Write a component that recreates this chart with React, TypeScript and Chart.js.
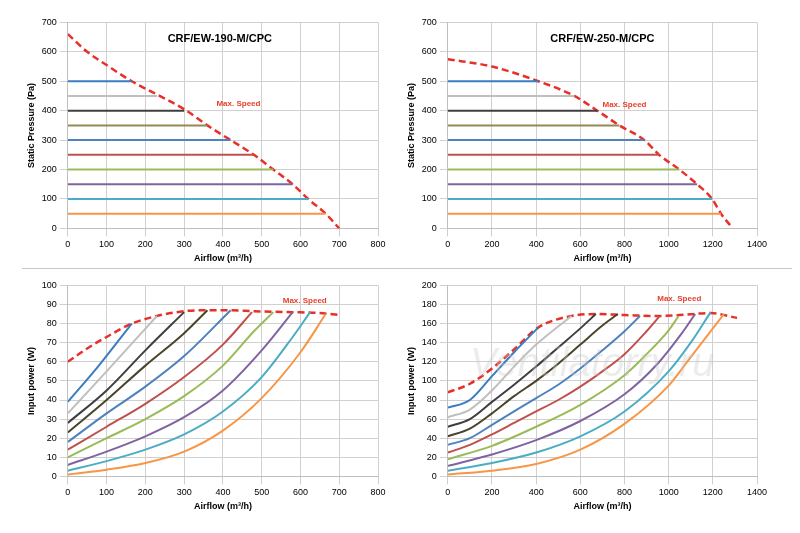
import React, { useEffect, useRef } from "react";
import { Chart, registerables } from "chart.js";
Chart.register(...registerables);

type P = [number, number];
const colors = ["#3A7DC0", "#BFBFBF", "#3F3F3F", "#4A452A", "#4F81BD", "#C0504D", "#9BBB59", "#8064A2", "#4BACC6", "#F79646"];
const pressureColors = ["#3A7DC0", "#BFBFBF", "#3F3F3F", "#948A54", "#4F81BD", "#C0504D", "#9BBB59", "#8064A2", "#4BACC6", "#F79646"];
const pressureLevels = [500, 450, 400, 350, 300, 250, 200, 150, 100, 50];

const p190Ends = [165, 230, 300, 360, 420, 480, 530, 580, 620, 665];
const p190Max: P[] = [[0, 660], [50, 600], [100, 555], [165, 500], [230, 455], [300, 405], [360, 350], [420, 300], [480, 250], [530, 200], [580, 150], [620, 100], [665, 50], [700, 0]];
const p250Ends = [410, 573, 677, 777, 890, 957, 1048, 1129, 1197, 1237];
const p250Max: P[] = [[0, 575], [200, 550], [410, 500], [573, 450], [677, 400], [777, 350], [890, 300], [957, 250], [1048, 200], [1129, 150], [1197, 100], [1237, 50], [1290, 0]];

const w190: P[][] = [
  [[0, 39], [80, 58], [165, 80]],
  [[0, 33], [100, 55], [230, 84]],
  [[0, 28], [100, 45], [200, 66], [300, 86]],
  [[0, 23], [100, 40], [200, 58], [300, 75], [360, 87]],
  [[0, 18], [100, 33], [200, 47], [300, 63], [420, 87]],
  [[0, 14], [100, 26], [200, 38], [300, 52], [400, 69], [475, 86]],
  [[0, 10], [100, 20], [200, 30], [300, 42], [400, 58], [480, 76], [530, 86]],
  [[0, 6], [100, 13], [200, 21], [300, 31], [400, 45], [500, 66], [580, 86]],
  [[0, 3], [100, 8], [200, 14], [300, 22], [400, 34], [500, 52], [580, 73], [625, 86]],
  [[0, 1], [100, 3.5], [200, 7], [300, 13], [400, 24], [500, 41], [600, 65], [665, 85]],
];
const w190Max: P[] = [[0, 60], [50, 67], [100, 73], [165, 80], [230, 84], [300, 86.5], [360, 87], [420, 87], [480, 86.5], [580, 86], [650, 85.5], [700, 84.5]];

const w250: P[][] = [
  [[0, 72], [100, 80], [200, 105], [300, 130], [410, 156]],
  [[0, 62], [100, 70], [200, 90], [300, 115], [400, 138], [560, 168]],
  [[0, 52], [100, 60], [200, 78], [300, 96], [400, 115], [500, 135], [600, 155], [670, 170]],
  [[0, 42], [100, 50], [200, 66], [300, 84], [400, 100], [500, 118], [600, 138], [700, 158], [770, 170]],
  [[0, 33], [100, 40], [200, 54], [300, 68], [400, 82], [500, 96], [600, 113], [700, 132], [800, 152], [870, 168]],
  [[0, 25], [100, 33], [200, 44], [300, 56], [400, 68], [500, 80], [600, 94], [700, 110], [800, 128], [900, 152], [960, 168]],
  [[0, 18], [200, 32], [400, 52], [600, 75], [800, 106], [900, 128], [1000, 153], [1045, 168]],
  [[0, 11], [200, 23], [400, 38], [600, 58], [800, 86], [950, 118], [1060, 150], [1120, 170]],
  [[0, 6], [200, 14], [400, 25], [600, 42], [800, 68], [1000, 110], [1100, 140], [1190, 172]],
  [[0, 2], [200, 6], [400, 13], [600, 28], [800, 55], [1000, 95], [1100, 125], [1250, 170]],
];
const w250Max: P[] = [[0, 88], [100, 97], [200, 113], [300, 133], [410, 156], [560, 168], [670, 170], [800, 169], [950, 168], [1050, 169], [1190, 171], [1310, 166]];

const FONT = "'Liberation Sans', Arial, sans-serif";

type Cfg = {
  left: number; top: number; w: number; h: number; xMax: number; xStep: number; yMax: number; yStep: number;
  yTitle: string; lines: { pts: P[]; color: string; smooth: boolean }[]; max: P[];
  label: P; title?: string; titlePos?: P;
};

const toXY = (pts: P[]) => pts.map(([x, y]) => ({ x, y }));

function Panel({ cfg }: { cfg: Cfg }) {
  const ref = useRef<HTMLCanvasElement>(null);
  useEffect(() => {
    const textPlugin = {
      id: "txt",
      afterDatasetsDraw(chart: any) {
        const { ctx, scales } = chart;
        ctx.save();
        ctx.textAlign = "center";
        ctx.textBaseline = "middle";
        ctx.fillStyle = "#E8402A";
        ctx.font = `bold 8px ${FONT}`;
        ctx.fillText("Max. Speed", scales.x.getPixelForValue(cfg.label[0]), scales.y.getPixelForValue(cfg.label[1]));
        if (cfg.title && cfg.titlePos) {
          ctx.fillStyle = "#000";
          ctx.font = `bold 11px ${FONT}`;
          ctx.fillText(cfg.title, scales.x.getPixelForValue(cfg.titlePos[0]), scales.y.getPixelForValue(cfg.titlePos[1]));
        }
        ctx.restore();
      },
    };
    const datasets: any[] = cfg.lines.map((l) => ({
      data: toXY(l.pts), borderColor: l.color, borderWidth: 2, pointRadius: 0,
      cubicInterpolationMode: l.smooth ? "monotone" : "default", tension: 0, fill: false,
    }));
    datasets.push({ data: toXY(cfg.max), borderColor: "#E8302A", borderWidth: 2.5, borderDash: [7, 4], pointRadius: 0, cubicInterpolationMode: "monotone", fill: false });
    const chart = new Chart(ref.current!, {
      type: "line",
      data: { datasets },
      options: {
        animation: false, responsive: false,
        layout: { padding: { right: 14, top: 6 } },
        plugins: { legend: { display: false }, tooltip: { enabled: false } },
        scales: {
          x: {
            type: "linear", min: 0, max: cfg.xMax,
            ticks: { stepSize: cfg.xStep, color: "#000", font: { size: 9, family: FONT }, callback: (v: any) => String(v) },
            grid: { color: "#D0D0D0" }, border: { color: "#BFBFBF" },
            title: { display: true, text: "Airflow (m³/h)", color: "#000", font: { size: 9, weight: "bold", family: FONT }, padding: 0 },
          },
          y: {
            min: 0, max: cfg.yMax,
            ticks: { stepSize: cfg.yStep, color: "#000", font: { size: 9, family: FONT }, callback: (v: any) => String(v) },
            grid: { color: "#D0D0D0" }, border: { color: "#BFBFBF" },
            title: { display: true, text: cfg.yTitle, color: "#000", font: { size: 9, weight: "bold", family: FONT }, padding: 2 },
          },
        },
      } as any,
      plugins: [textPlugin],
    });
    return () => chart.destroy();
  }, []);
  return <canvas ref={ref} width={cfg.w} height={cfg.h} style={{ position: "absolute", left: cfg.left, top: cfg.top }} />;
}

const hLines = (ends: number[]) =>
  ends.map((e, i) => ({ pts: [[0, pressureLevels[i]], [e, pressureLevels[i]]] as P[], color: pressureColors[i], smooth: false }));
const curves = (c: P[][]) => c.map((pts, i) => ({ pts, color: colors[i], smooth: true }));

const panels: Cfg[] = [
  { left: 24, top: 14, w: 368, h: 250, xMax: 800, xStep: 100, yMax: 700, yStep: 100, yTitle: "Static Pressure (Pa)", lines: hLines(p190Ends), max: p190Max, label: [440, 422], title: "CRF/EW-190-M/CPC", titlePos: [392, 645] },
  { left: 404, top: 14, w: 367, h: 250, xMax: 1400, xStep: 200, yMax: 700, yStep: 100, yTitle: "Static Pressure (Pa)", lines: hLines(p250Ends), max: p250Max, label: [800, 420], title: "CRF/EW-250-M/CPC", titlePos: [700, 645] },
  { left: 24, top: 277, w: 368, h: 235, xMax: 800, xStep: 100, yMax: 100, yStep: 10, yTitle: "Input power (W)", lines: curves(w190), max: w190Max, label: [611, 92] },
  { left: 404, top: 277, w: 367, h: 235, xMax: 1400, xStep: 200, yMax: 200, yStep: 20, yTitle: "Input power (W)", lines: curves(w250), max: w250Max, label: [1048, 186] },
];

export default function App() {
  return (
    <div style={{ position: "absolute", left: 0, top: 0, width: 800, height: 533, background: "#fff", overflow: "hidden" }}>
      {panels.map((p, i) => <Panel key={i} cfg={p} />)}
      <div style={{ position: "absolute", left: 22, top: 268, width: 770, height: 1, background: "#C8C8C8" }} />
      <div style={{ position: "absolute", left: 470, top: 340, fontFamily: FONT, fontStyle: "italic", fontSize: 40, color: "rgba(200,200,200,0.35)", pointerEvents: "none" }}>Ventilatorry.ru</div>
    </div>
  );
}
